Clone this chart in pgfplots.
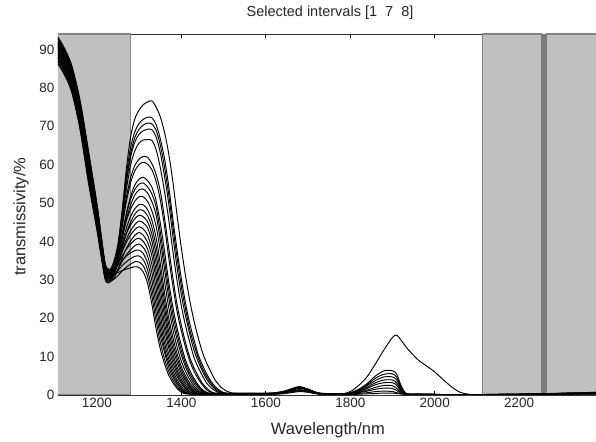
\documentclass[border=0pt]{standalone}
\usepackage{pgfplots}
\usepackage{pgfplotstable}
\pgfplotsset{compat=1.18}
\usepackage{fontspec}
\setmainfont{Liberation Sans}
\definecolor{patch}{HTML}{C0C0C0}
\definecolor{patchedge}{HTML}{858585}
\definecolor{band}{HTML}{7A7A7A}

\pgfplotstableread{
x c1 c2 c3 c4 c5 c6 c7 c8 c9 c10 c11 c12 c13 c14 c15 c16 c17 c18 c19 c20 c21 c22 c23
1100 92.5 89 91.5 94 90 93 88 92 90.5 93.5 88.5 91 94.5 89.5 92 87.5 91.5 93 90 92.5 89 94 91
1120 89 85.5 88 90.5 86.5 89.5 84.5 88.5 87 90 85 87.5 91 86 88.5 84 88 89.5 86.5 89 85.5 90.5 87.5
1140 84 80.5 83 85.5 81.5 84.5 79.5 83.5 82 85 80 82.5 86 81 83.5 79 83 84.5 81.5 84 80.5 85.5 82.5
1160 74.7 70.8 73.6 76.3 71.9 75.2 69.7 74.1 72.5 75.8 70.3 73 76.9 71.4 74.1 69.2 73.6 75.2 71.9 74.7 70.8 76.3 73
1180 61.3 57.1 60.1 63.1 58.3 61.9 55.9 60.7 58.9 62.5 56.5 59.5 63.7 57.7 60.7 55.3 60.1 61.9 58.3 61.3 57.1 63.1 59.5
1200 48 44.5 47 49.5 45.5 48.5 43.5 47.5 46 49 44 46.5 50 45 47.5 43 47 48.5 45.5 48 44.5 49.5 46.5
1210 40.2 37.4 39.4 41.4 38.2 40.6 36.6 39.8 38.6 41 37 39 41.8 37.8 39.8 36.2 39.4 40.6 38.2 40.2 37.4 41.4 39
1220 32.9 30.8 32.3 33.8 31.4 33.2 30.2 32.6 31.7 33.5 30.5 32 34.1 31.1 32.6 29.9 32.3 33.2 31.4 32.9 30.8 33.8 32
1230 31.3 29.7 30.9 32.2 30.3 31.8 29.4 31.3 30.6 32.1 29.7 30.9 32.7 30.2 31.5 29.3 31.3 32.0 30.5 31.7 30.0 32.5 31.0
1240 31.5 30.1 31.4 32.7 31.1 32.5 30.4 32.4 31.8 33.3 31.2 32.4 34.1 32.0 33.2 31.2 33.2 34.0 32.7 33.9 32.3 34.7 33.3
1250 31.9 31.1 32.4 33.7 32.7 34.1 32.7 34.5 34.3 35.7 34.2 35.4 37.1 35.5 36.7 35.2 37.3 38.1 37.4 38.6 37.3 39.4 38.3
1260 32.4 32.3 33.7 35.0 34.8 36.2 35.6 37.3 37.6 39.0 38.3 39.6 41.3 40.7 42.0 41.3 43.8 44.7 45.2 46.7 46.0 47.9 48.0
1270 32.8 33.3 34.7 36.2 36.5 38.0 38.2 39.8 40.6 42.0 42.2 43.5 45.4 45.8 47.1 47.3 50.4 51.5 53.6 55.5 55.6 57.4 59.0
1280 33.1 34.1 35.5 37.0 37.8 39.3 40.1 41.7 42.8 44.3 45.0 46.5 48.4 49.5 51.0 51.7 55.3 56.6 59.9 62.0 62.9 64.5 67.3
1290 33.4 34.7 36.1 37.6 38.9 40.4 41.6 43.1 44.4 45.9 47.1 48.5 50.5 52.1 53.5 54.7 58.4 59.8 63.6 65.9 67.1 68.6 71.9
1300 33.2 34.6 36.2 37.7 39.3 40.8 42.3 43.8 45.3 46.8 48.2 49.6 51.6 53.4 54.9 56.2 60.0 61.4 65.6 67.9 69.2 70.7 74.2
1310 32.0 33.6 35.2 36.8 38.4 40.0 41.6 43.2 44.8 46.4 48.0 49.5 51.6 53.6 55.2 56.7 60.6 62.1 66.4 68.8 70.3 71.8 75.6
1320 29.1 30.9 32.6 34.4 36.2 38.0 39.8 41.6 43.5 45.1 46.7 48.3 50.4 52.6 54.2 55.8 60.1 61.9 66.5 69.2 70.8 72.3 76.3
1330 23.8 25.9 27.8 29.9 32.0 34.1 36.3 38.2 40.2 42.0 43.8 45.6 48.0 50.4 52.4 54.2 58.7 60.3 66.3 69.1 70.6 72.2 76.6
1340 17.4 19.5 21.5 23.6 25.8 28.0 30.3 32.4 34.5 36.7 38.8 41.1 44.1 47.0 49.1 50.7 55.7 57.5 64.0 67.3 69.0 70.5 75.0
1350 12.1 13.8 15.6 17.3 19.1 21.1 23.2 25.4 27.6 29.8 32.2 34.4 37.7 40.4 42.6 44.9 50.9 53.2 59.3 63.2 65.2 66.8 72.5
1360 8.2 9.5 11.2 12.2 13.6 15.2 17.1 18.8 20.9 22.8 24.7 26.8 29.8 32.9 35.1 37.6 44.1 46.2 53.1 57.1 59.5 61.7 68.5
1370 5.2 6.2 7.3 8.4 9.5 10.8 12.3 13.6 15.1 16.6 18.4 20.2 22.9 25.5 27.6 29.6 35.9 38.4 45.8 50.0 52.3 54.5 62.9
1380 3.2 3.9 4.7 5.4 6.3 7.3 8.4 9.6 10.8 12.1 13.5 15.0 17.1 19.1 21.0 22.9 28.4 30.5 37.4 41.4 43.9 45.8 55.5
1390 1.7 2.2 2.8 3.4 4.0 4.8 5.6 6.4 7.3 8.5 9.6 10.8 12.5 14.4 15.9 17.4 21.7 23.5 29.7 33.2 35.6 37.7 46.7
1400 0.7 1.1 1.5 1.8 2.3 3.0 3.5 4.1 4.9 5.7 6.5 7.4 8.8 10.4 11.6 12.9 16.7 18.2 23.2 26.1 28.3 30.3 38.3
1410 0.3 0.45 0.6 0.8 1.2 1.6 1.9 2.4 3.0 3.7 4.3 5.0 6.1 7.3 8.2 9.1 12.4 13.6 18.0 20.6 22.3 23.9 31.0
1420 0.2 0.3 0.4 0.3 0.5 0.7 0.9 1.3 1.7 2.1 2.5 3.1 4.0 4.9 5.6 6.4 8.8 9.8 13.7 15.8 17.1 18.6 24.6
1430 0.2 0.3 0.4 0.2 0.3 0.4 0.4 0.6 0.8 1.0 1.4 1.8 2.3 3.0 3.7 4.3 6.2 7.1 9.8 11.7 13.1 14.4 19.3
1440 0.2 0.3 0.4 0.2 0.3 0.4 0.2 0.3 0.3 0.45 0.7 0.9 1.2 1.7 2.2 2.6 4.2 4.9 7.2 8.7 9.7 10.5 14.9
1450 0.2 0.3 0.4 0.2 0.3 0.4 0.2 0.3 0.2 0.4 0.3 0.4 0.6 0.9 1.1 1.4 2.6 3.0 5.0 6.2 6.9 7.8 11.1
1460 0.2 0.3 0.4 0.2 0.3 0.4 0.2 0.3 0.2 0.4 0.2 0.3 0.3 0.4 0.5 0.7 1.3 1.8 3.1 4.1 4.8 5.5 8.3
1470 0.2 0.3 0.4 0.2 0.3 0.4 0.2 0.3 0.2 0.4 0.2 0.3 0.2 0.3 0.3 0.35 0.7 0.9 1.9 2.6 3.1 3.6 6.0
1480 0.2 0.3 0.4 0.2 0.3 0.4 0.2 0.3 0.2 0.4 0.2 0.3 0.2 0.3 0.3 0.2 0.35 0.45 1.1 1.5 1.8 2.2 3.9
1490 0.2 0.3 0.4 0.2 0.3 0.4 0.2 0.3 0.2 0.4 0.2 0.3 0.2 0.3 0.3 0.2 0.3 0.4 0.5 0.8 1.0 1.3 2.5
1500 0.2 0.3 0.4 0.2 0.3 0.4 0.2 0.3 0.2 0.4 0.2 0.3 0.2 0.3 0.3 0.2 0.3 0.4 0.3 0.4 0.5 0.65 1.5
1520 0.2 0.3 0.4 0.2 0.3 0.4 0.2 0.3 0.2 0.4 0.2 0.3 0.2 0.3 0.3 0.2 0.3 0.4 0.3 0.3 0.2 0.3 0.5
1560 0.2 0.3 0.4 0.2 0.3 0.4 0.2 0.3 0.2 0.4 0.2 0.3 0.2 0.3 0.3 0.2 0.3 0.4 0.3 0.3 0.2 0.4 0.3
}\maintab

\pgfplotstableread{
x t1 t2 t3 t4 t5 t6 t7 t8 t9 t10
1560 0.2 0.3 0.1 0.4 0.2 0.3 0.5 0.2 0.3 0.1
1600 0.2 0.3 0.2 0.4 0.3 0.2 0.5 0.3 0.2 0.1
1620 0.3 0.5 0.3 0.5 0.4 0.3 0.6 0.3 0.3 0.2
1640 0.6 0.9 0.6 0.8 0.7 0.5 0.9 0.5 0.5 0.3
1660 1.3 1.6 1.2 1.5 1.3 1.0 1.4 0.9 0.8 0.6
1680 1.8 2.2 1.7 2.0 1.8 1.4 1.9 1.2 1.1 0.9
1700 1.2 1.5 1.3 1.5 1.4 1.0 1.5 0.9 0.8 0.7
1720 0.4 0.6 0.5 0.6 0.6 0.4 0.7 0.4 0.4 0.3
1740 0.2 0.3 0.2 0.3 0.3 0.2 0.4 0.2 0.2 0.1
1780 0.3 0.2 0.2 0.3 0.3 0.2 0.3 0.2 0.2 0.1
1800 0.9 0.6 0.5 0.4 0.4 0.3 0.3 0.2 0.2 0.1
1820 2.5 1.5 1.3 1.2 1.0 0.9 0.7 0.6 0.4 0.2
1840 4.8 3.0 2.7 2.4 2.0 1.7 1.3 1.0 0.6 0.3
1860 8.2 5.0 4.4 3.8 3.2 2.7 2.0 1.5 0.9 0.4
1880 11.8 6.3 5.4 4.7 3.9 3.2 2.5 1.8 1.0 0.5
1900 15.0 6.3 5.5 4.7 3.9 3.2 2.4 1.7 0.9 0.5
1910 15.6 5.4 4.6 3.9 3.1 2.5 1.7 1.2 0.6 0.4
1920 14.3 2.5 2.0 1.6 1.2 0.9 0.6 0.4 0.3 0.3
1930 12.8 0.6 0.5 0.4 0.3 0.3 0.2 0.2 0.2 0.2
1940 11.5 0.2 0.2 0.2 0.2 0.2 0.2 0.2 0.1 0.1
1960 9.2 0.2 0.2 0.2 0.2 0.2 0.2 0.2 0.1 0.1
1980 7.6 0.2 0.1 0.2 0.2 0.1 0.2 0.1 0.1 0.1
2000 6.0 0.1 0.1 0.2 0.1 0.1 0.2 0.1 0.1 0.1
2020 4.0 0.1 0.1 0.1 0.1 0.1 0.1 0.1 0.1 0.1
2040 2.1 0.1 0.1 0.1 0.1 0.1 0.1 0.1 0.1 0.1
2060 0.7 0.1 0.1 0.1 0.1 0.1 0.1 0.1 0.1 0.1
2080 0.2 0.1 0.1 0.1 0.1 0.1 0.1 0.1 0.1 0.1
2100 0.1 0.1 0.1 0.1 0.1 0.1 0.1 0.1 0.1 0.1
2150 0.1 0.1 0.2 0.1 0.1 0.2 0.1 0.1 0.1 0.1
2200 0.2 0.2 0.2 0.2 0.1 0.2 0.2 0.1 0.1 0.1
2250 0.3 0.3 0.2 0.3 0.2 0.3 0.2 0.2 0.2 0.1
2300 0.4 0.4 0.3 0.5 0.3 0.4 0.3 0.2 0.2 0.2
2350 0.6 0.5 0.4 0.6 0.4 0.5 0.4 0.3 0.3 0.2
2400 0.7 0.7 0.5 0.8 0.5 0.6 0.5 0.4 0.3 0.3
}\tailtab

\begin{document}
\begin{tikzpicture}
\begin{axis}[
  name=ax,
  scale only axis,
  width=544pt, height=361pt,
  xmin=1108, xmax=2396, ymin=0, ymax=94,
  axis on top=false,
  xtick={1200,1400,...,2200},
  ytick={0,10,...,90},
  tick align=inside,
  major tick length=4pt,
  xtick pos=both, ytick pos=left,
  xticklabel pos=lower,
  tick style={black, line width=0.7pt},
  axis line style={black!80, line width=0.9pt},
  ticklabel style={font=\fontsize{13.5}{15}\selectfont, text=black!85},
  /pgf/number format/assume math mode=true,
  /pgf/number format/1000 sep={},
  title={Selected intervals [1\ \ 7\ \ 8]},
  title style={at={(axis description cs:0.5,1.0416)}, anchor=center, font=\fontsize{14.5}{16}\selectfont, text=black!85},
  xlabel={Wavelength/nm},
  xlabel style={at={(axis description cs:0.496,-0.097)}, anchor=center, font=\fontsize{16.5}{18}\selectfont, text=black!85},
  ylabel={transmissivity/\%},
  ylabel style={at={(axis description cs:-0.068,0.494)}, anchor=center, font=\fontsize{16.5}{18}\selectfont, text=black!85},
]
% selected intervals (shaded)
\addplot[fill=patch, draw=patchedge, line width=1.3pt] coordinates {(1100,0) (1280,0) (1280,94) (1100,94)} -- cycle;
\addplot[fill=patch, draw=patchedge, line width=1.3pt] coordinates {(2113,0) (2252,0) (2252,94) (2113,94)} -- cycle;
\addplot[fill=patch, draw=patchedge, line width=1.3pt] coordinates {(2265,0) (2420,0) (2420,94) (2265,94)} -- cycle;
\addplot[fill=band, draw=none] coordinates {(2252,0) (2265,0) (2265,94) (2252,94)} -- cycle;
% spectra
\pgfplotsinvokeforeach{1,...,23}{
  \addplot[black, line width=0.95pt, smooth] table[x index=0, y index=#1] {\maintab};
}
\pgfplotsinvokeforeach{1,...,10}{
  \addplot[black, line width=0.95pt, smooth] table[x index=0, y index=#1] {\tailtab};
}
\end{axis}
\pgfresetboundingbox
\path[use as bounding box] ([xshift=-58pt,yshift=-47pt]ax.south west) rectangle ([xshift=-6pt,yshift=34pt]ax.north east);
\end{tikzpicture}
\end{document}
